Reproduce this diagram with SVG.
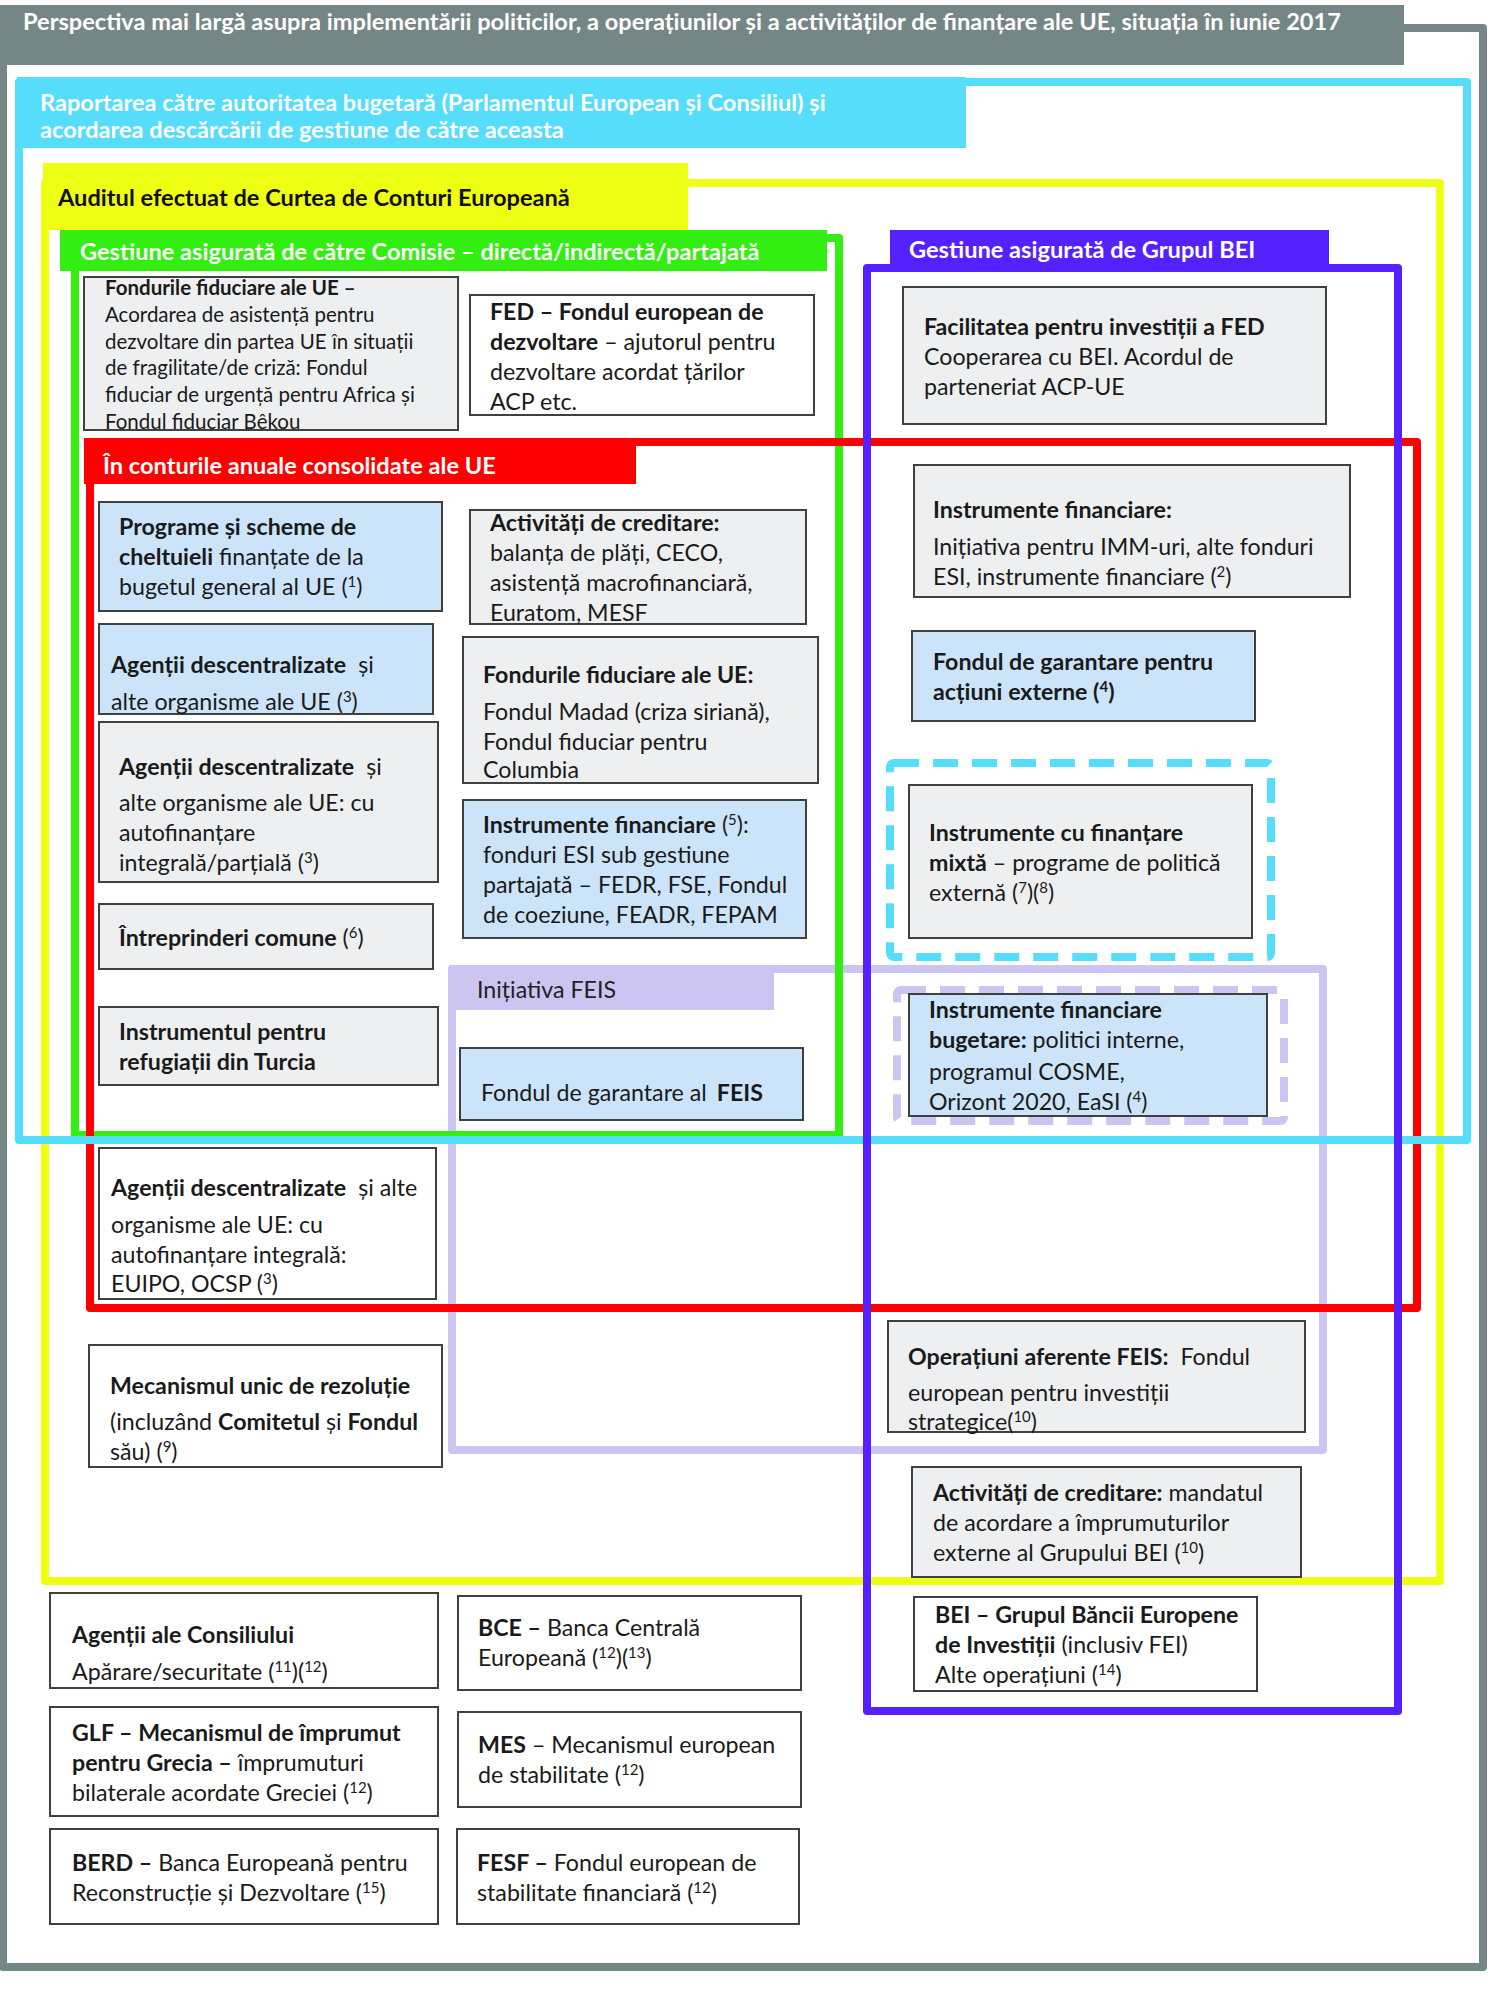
<svg xmlns="http://www.w3.org/2000/svg" width="1500" height="2006" viewBox="0 0 1500 2006">
<style>
.t{font-family:Lato,"Liberation Sans",sans-serif;font-size:23.2px;fill:#1a1a1a}
.s{font-size:20.5px}
.b{font-weight:700}
.h{font-family:Lato,"Liberation Sans",sans-serif;font-size:23.6px;font-weight:700;fill:#ffffff}
.box{stroke:#404040;stroke-width:2}
.g{fill:#EDEFF0}.bl{fill:#CCE4FA}.w{fill:#ffffff}
.fr{fill:none;stroke-width:8;stroke-linejoin:round}
.sup{font-size:15px}
</style>
<rect width="1500" height="2006" fill="#ffffff"/>
<g id="frames">
  <g id="frame-feis">
    <rect class="fr" x="452" y="969" width="871" height="481" stroke="#CCC5F2"/>
    <rect x="449" y="965" width="325" height="45" fill="#CCC5F2"/>
    <text x="477" y="998" class="t" style="fill:#222">Inițiativa FEIS</text>
  </g>
  <g id="frame-overall">
    <rect class="fr" x="3" y="28" width="1480" height="1939" stroke="#758687" stroke-width="7"/>
    <rect x="0" y="5" width="1404" height="60" fill="#758687"/>
    <text x="23" y="30" class="h">Perspectiva mai largă asupra implementării politicilor, a operațiunilor și a activităților de finanțare ale UE, situația în iunie 2017</text>
  </g>
  <g id="frame-audit">
    <rect class="fr" x="45" y="183" width="1395" height="1398" stroke="#EEFF14"/>
    <rect x="43" y="163" width="645" height="67" fill="#EEFF14"/>
    <text x="58" y="206" class="h" style="fill:#111">Auditul efectuat de Curtea de Conturi Europeană</text>
  </g>
  <g id="frame-commission">
    <rect class="fr" x="75" y="238" width="764" height="897" stroke="#33EE11" stroke-width="7"/>
    <rect x="60" y="230" width="767" height="41" fill="#33EE11"/>
    <text x="80" y="260" class="h">Gestiune asigurată de către Comisie – directă/indirectă/partajată</text>
  </g>
  <g id="frame-accounts">
    <rect class="fr" x="90" y="442" width="1327" height="866" stroke="#FF0000"/>
    <rect x="84" y="438" width="552" height="46" fill="#FF0000"/>
    <text x="103" y="474" class="h">În conturile anuale consolidate ale UE</text>
  </g>
  <g id="frame-reporting">
    <rect class="fr" x="19" y="82" width="1448" height="1058" stroke="#56DDFB"/>
    <rect x="17" y="77" width="949" height="71" fill="#56DDFB"/>
    <text x="40" y="111" class="h">Raportarea către autoritatea bugetară (Parlamentul European și Consiliul) și</text>
    <text x="40" y="138" class="h">acordarea descărcării de gestiune de către aceasta</text>
  </g>
  <g id="frame-eib">
    <rect class="fr" x="867" y="268" width="531" height="1443" stroke="#5522FF"/>
    <rect x="890" y="230" width="439" height="36" fill="#5522FF"/>
    <text x="909" y="258" class="h">Gestiune asigurată de Grupul BEI</text>
  </g>
  <rect id="dash-blending" x="890" y="763" width="381" height="194" rx="4" fill="none" stroke="#56DDFB" stroke-width="8" stroke-dasharray="25 14"/>
  <rect id="dash-budgetary" x="897" y="990" width="387" height="131" rx="4" fill="none" stroke="#CCC5F2" stroke-width="8" stroke-dasharray="25 14"/>
</g>
<g id="connectors"></g>

<g id="n1"><rect class="box g" x="84" y="277" width="374" height="153"/>
<text class="t s"><tspan x="105" y="295" class="b">Fondurile fiduciare ale UE –</tspan><tspan x="105" y="322">Acordarea de asistență pentru</tspan><tspan x="105" y="349">dezvoltare din partea UE în situații</tspan><tspan x="105" y="375">de fragilitate/de criză: Fondul</tspan><tspan x="105" y="402">fiduciar de urgență pentru Africa și</tspan><tspan x="105" y="429">Fondul fiduciar Bêkou</tspan></text></g>

<g id="n2"><rect class="box w" x="470" y="295" width="344" height="120"/>
<text class="t"><tspan x="490" y="320" class="b">FED – Fondul european de</tspan><tspan x="490" y="350" class="b">dezvoltare</tspan><tspan> – ajutorul pentru</tspan><tspan x="490" y="380">dezvoltare acordat țărilor</tspan><tspan x="490" y="410">ACP etc.</tspan></text></g>

<g id="n3"><rect class="box bl" x="99" y="502" width="343" height="109"/>
<text class="t"><tspan x="119" y="535" class="b">Programe și scheme de</tspan><tspan x="119" y="565" class="b">cheltuieli</tspan><tspan> finanțate de la</tspan><tspan x="119" y="595">bugetul general al UE (</tspan><tspan dy="-8" class="sup">1</tspan><tspan dy="8">)</tspan></text></g>

<g id="n4"><rect class="box g" x="470" y="510" width="336" height="114"/>
<text class="t"><tspan x="490" y="531" class="b">Activități de creditare:</tspan><tspan x="490" y="561">balanța de plăți, CECO,</tspan><tspan x="490" y="591">asistență macrofinanciară,</tspan><tspan x="490" y="621">Euratom, MESF</tspan></text></g>

<g id="n5"><rect class="box bl" x="99" y="624" width="334" height="90"/>
<text class="t"><tspan x="111" y="673" class="b">Agenții descentralizate</tspan><tspan dx="12">și</tspan><tspan x="111" y="710">alte organisme ale UE (</tspan><tspan dy="-8" class="sup">3</tspan><tspan dy="8">)</tspan></text></g>

<g id="n6"><rect class="box g" x="463" y="637" width="355" height="146"/>
<text class="t"><tspan x="483" y="683" class="b">Fondurile fiduciare ale UE:</tspan><tspan x="483" y="720">Fondul Madad (criza siriană),</tspan><tspan x="483" y="750">Fondul fiduciar pentru</tspan><tspan x="483" y="778">Columbia</tspan></text></g>

<g id="n7"><rect class="box g" x="99" y="722" width="339" height="160"/>
<text class="t"><tspan x="119" y="775" class="b">Agenții descentralizate</tspan><tspan dx="12">și</tspan><tspan x="119" y="811">alte organisme ale UE: cu</tspan><tspan x="119" y="841">autofinanțare</tspan><tspan x="119" y="871">integrală/parțială (</tspan><tspan dy="-8" class="sup">3</tspan><tspan dy="8">)</tspan></text></g>

<g id="n8"><rect class="box bl" x="463" y="800" width="343" height="138"/>
<text class="t"><tspan x="483" y="833" class="b">Instrumente financiare</tspan><tspan> (</tspan><tspan dy="-8" class="sup">5</tspan><tspan dy="8">):</tspan><tspan x="483" y="863">fonduri ESI sub gestiune</tspan><tspan x="483" y="893">partajată – FEDR, FSE, Fondul</tspan><tspan x="483" y="923">de coeziune, FEADR, FEPAM</tspan></text></g>

<g id="n9"><rect class="box g" x="99" y="904" width="334" height="65"/>
<text class="t"><tspan x="119" y="946" class="b">Întreprinderi comune</tspan><tspan> (</tspan><tspan dy="-8" class="sup">6</tspan><tspan dy="8">)</tspan></text></g>

<g id="n10"><rect class="box g" x="99" y="1007" width="339" height="78"/>
<text class="t b"><tspan x="119" y="1040">Instrumentul pentru</tspan><tspan x="119" y="1070">refugiații din Turcia</tspan></text></g>

<g id="n11"><rect class="box bl" x="460" y="1048" width="343" height="72"/>
<text class="t"><tspan x="481" y="1101">Fondul de garantare al</tspan><tspan dx="10" class="b">FEIS</tspan></text></g>

<g id="n12"><rect class="box w" x="99" y="1148" width="337" height="151"/>
<text class="t"><tspan x="111" y="1196" class="b">Agenții descentralizate</tspan><tspan dx="12">și alte</tspan><tspan x="111" y="1233">organisme ale UE: cu</tspan><tspan x="111" y="1263">autofinanțare integrală:</tspan><tspan x="111" y="1292">EUIPO, OCSP (</tspan><tspan dy="-8" class="sup">3</tspan><tspan dy="8">)</tspan></text></g>

<g id="n13"><rect class="box w" x="89" y="1345" width="353" height="122"/>
<text class="t"><tspan x="110" y="1394" class="b">Mecanismul unic de rezoluție</tspan><tspan x="110" y="1430">(incluzând </tspan><tspan class="b">Comitetul</tspan><tspan> și </tspan><tspan class="b">Fondul</tspan><tspan x="110" y="1460">său) (</tspan><tspan dy="-8" class="sup">9</tspan><tspan dy="8">)</tspan></text></g>

<g id="n14"><rect class="box g" x="903" y="287" width="423" height="137"/>
<text class="t"><tspan x="924" y="335" class="b">Facilitatea pentru investiții a FED</tspan><tspan x="924" y="365">Cooperarea cu BEI. Acordul de</tspan><tspan x="924" y="395">parteneriat ACP-UE</tspan></text></g>

<g id="n15"><rect class="box g" x="914" y="465" width="436" height="132"/>
<text class="t"><tspan x="933" y="518" class="b">Instrumente financiare:</tspan><tspan x="933" y="555">Inițiativa pentru IMM-uri, alte fonduri</tspan><tspan x="933" y="585">ESI, instrumente financiare (</tspan><tspan dy="-8" class="sup">2</tspan><tspan dy="8">)</tspan></text></g>

<g id="n16"><rect class="box bl" x="912" y="631" width="343" height="90"/>
<text class="t b"><tspan x="933" y="670">Fondul de garantare pentru</tspan><tspan x="933" y="700">acțiuni externe (</tspan><tspan dy="-8" class="sup">4</tspan><tspan dy="8">)</tspan></text></g>

<g id="n17"><rect class="box g" x="909" y="785" width="343" height="153"/>
<text class="t"><tspan x="929" y="841" class="b">Instrumente cu finanțare</tspan><tspan x="929" y="871" class="b">mixtă</tspan><tspan> – programe de politică</tspan><tspan x="929" y="901">externă (</tspan><tspan dy="-8" class="sup">7</tspan><tspan dy="8">)(</tspan><tspan dy="-8" class="sup">8</tspan><tspan dy="8">)</tspan></text></g>

<g id="n18"><rect class="box bl" x="909" y="994" width="358" height="122"/>
<text class="t"><tspan x="929" y="1018" class="b">Instrumente financiare</tspan><tspan x="929" y="1048" class="b">bugetare:</tspan><tspan> politici interne,</tspan><tspan x="929" y="1080">programul COSME,</tspan><tspan x="929" y="1110">Orizont 2020, EaSI (</tspan><tspan dy="-8" class="sup">4</tspan><tspan dy="8">)</tspan></text></g>

<g id="n19"><rect class="box g" x="888" y="1321" width="417" height="111"/>
<text class="t"><tspan x="908" y="1365" class="b">Operațiuni aferente FEIS:</tspan><tspan dx="12">Fondul</tspan><tspan x="908" y="1401">european pentru investiții</tspan><tspan x="908" y="1430">strategice(</tspan><tspan dy="-8" class="sup">10</tspan><tspan dy="8">)</tspan></text></g>

<g id="n20"><rect class="box g" x="912" y="1467" width="389" height="110"/>
<text class="t"><tspan x="933" y="1501" class="b">Activități de creditare:</tspan><tspan> mandatul</tspan><tspan x="933" y="1531">de acordare a împrumuturilor</tspan><tspan x="933" y="1561">externe al Grupului BEI (</tspan><tspan dy="-8" class="sup">10</tspan><tspan dy="8">)</tspan></text></g>

<g id="n21"><rect class="box w" x="914" y="1597" width="343" height="94"/>
<text class="t"><tspan x="935" y="1623" class="b">BEI – Grupul Băncii Europene</tspan><tspan x="935" y="1653" class="b">de Investiții</tspan><tspan> (inclusiv FEI)</tspan><tspan x="935" y="1683">Alte operațiuni (</tspan><tspan dy="-8" class="sup">14</tspan><tspan dy="8">)</tspan></text></g>

<g id="n22"><rect class="box w" x="50" y="1593" width="388" height="95"/>
<text class="t"><tspan x="72" y="1643" class="b">Agenții ale Consiliului</tspan><tspan x="72" y="1680">Apărare/securitate (</tspan><tspan dy="-8" class="sup">11</tspan><tspan dy="8">)(</tspan><tspan dy="-8" class="sup">12</tspan><tspan dy="8">)</tspan></text></g>

<g id="n23"><rect class="box w" x="458" y="1596" width="343" height="94"/>
<text class="t"><tspan x="478" y="1636" class="b">BCE –</tspan><tspan> Banca Centrală</tspan><tspan x="478" y="1666">Europeană (</tspan><tspan dy="-8" class="sup">12</tspan><tspan dy="8">)(</tspan><tspan dy="-8" class="sup">13</tspan><tspan dy="8">)</tspan></text></g>

<g id="n24"><rect class="box w" x="50" y="1707" width="388" height="109"/>
<text class="t"><tspan x="72" y="1741" class="b">GLF – Mecanismul de împrumut</tspan><tspan x="72" y="1771" class="b">pentru Grecia –</tspan><tspan> împrumuturi</tspan><tspan x="72" y="1801">bilaterale acordate Greciei (</tspan><tspan dy="-8" class="sup">12</tspan><tspan dy="8">)</tspan></text></g>

<g id="n25"><rect class="box w" x="458" y="1712" width="343" height="95"/>
<text class="t"><tspan x="478" y="1753" class="b">MES</tspan><tspan> – Mecanismul european</tspan><tspan x="478" y="1783">de stabilitate (</tspan><tspan dy="-8" class="sup">12</tspan><tspan dy="8">)</tspan></text></g>

<g id="n26"><rect class="box w" x="50" y="1829" width="388" height="95"/>
<text class="t"><tspan x="72" y="1871" class="b">BERD –</tspan><tspan> Banca Europeană pentru</tspan><tspan x="72" y="1901">Reconstrucție și Dezvoltare (</tspan><tspan dy="-8" class="sup">15</tspan><tspan dy="8">)</tspan></text></g>

<g id="n27"><rect class="box w" x="457" y="1829" width="342" height="95"/>
<text class="t"><tspan x="477" y="1871" class="b">FESF –</tspan><tspan> Fondul european de</tspan><tspan x="477" y="1901">stabilitate financiară (</tspan><tspan dy="-8" class="sup">12</tspan><tspan dy="8">)</tspan></text></g>
</svg>
